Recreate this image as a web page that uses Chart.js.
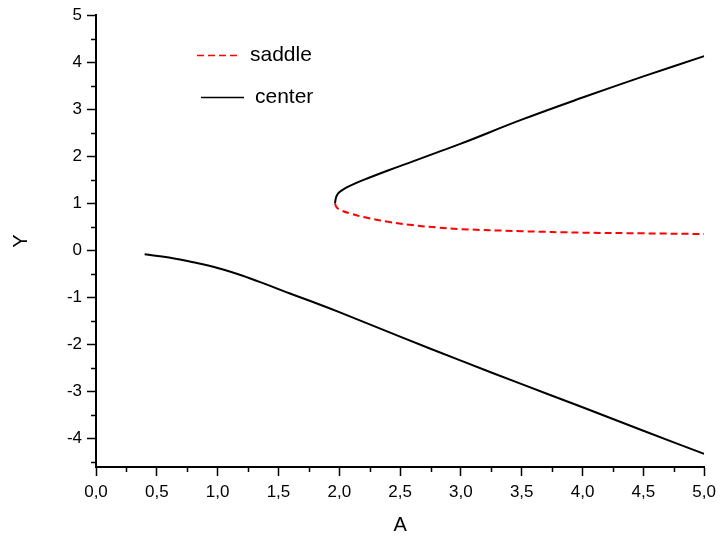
<!DOCTYPE html>
<html>
<head>
<meta charset="utf-8">
<script src="https://cdn.jsdelivr.net/npm/chart.js@4"></script>
<style>
  body { margin: 0; background: #fff; }
  canvas { display: block; }
</style>
</head>
<body>
<canvas id="chart" width="722" height="541"></canvas>
<script>
// lower center branch
var lowA = [0.40, 0.6, 0.8, 1.0, 1.2, 1.4, 1.6, 1.8, 2.0, 2.5, 3.0, 3.5, 4.0, 4.5, 5.0];
var lowY = [-0.08, -0.15, -0.25, -0.37, -0.53, -0.72, -0.92, -1.11, -1.31, -1.83, -2.34, -2.84, -3.33, -3.83, -4.32];
// upper center branch (from the fold)
var upA = [1.965, 1.97, 1.98, 2.0, 2.04, 2.1, 2.2, 2.4, 2.6, 2.8, 3.0, 3.5, 4.0, 4.5, 5.0];
var upY = [1.0, 1.09, 1.17, 1.24, 1.31, 1.39, 1.50, 1.70, 1.89, 2.08, 2.27, 2.78, 3.25, 3.70, 4.13];
// saddle branch (from the fold)
var sadA = [1.965, 1.975, 2.0, 2.1, 2.2, 2.4, 2.6, 2.8, 3.0, 3.5, 4.0, 4.5, 5.0];
var sadY = [1.0, 0.93, 0.87, 0.78, 0.71, 0.61, 0.54, 0.49, 0.455, 0.41, 0.38, 0.365, 0.35];

var xTicks = [0, 0.5, 1, 1.5, 2, 2.5, 3, 3.5, 4, 4.5, 5];
var xMinor = [0.25, 0.75, 1.25, 1.75, 2.25, 2.75, 3.25, 3.75, 4.25, 4.75];
var yTicks = [-4, -3, -2, -1, 0, 1, 2, 3, 4, 5];
var yMinor = [-4.5, -3.5, -2.5, -1.5, -0.5, 0.5, 1.5, 2.5, 3.5, 4.5];

var FONT = "'Liberation Sans', Arial, sans-serif";

var pts = (xs, ys) => xs.map((x, i) => ({x: x, y: ys[i]}));

// short minor ticks on both axes
var minorTicks = {
  id: 'minorTicks',
  afterDraw: (chart) => {
    var ctx = chart.ctx;
    var xs = chart.scales.x, ys = chart.scales.y;
    var area = chart.chartArea;
    ctx.save();
    ctx.strokeStyle = '#000';
    ctx.lineWidth = 1.5;
    ctx.beginPath();
    xMinor.forEach((v) => {
      var px = Math.round(xs.getPixelForValue(v)) + 0.5;
      ctx.moveTo(px, area.bottom);
      ctx.lineTo(px, area.bottom + 5);
    });
    yMinor.forEach((v) => {
      var py = Math.round(ys.getPixelForValue(v)) + 0.5;
      ctx.moveTo(area.left, py);
      ctx.lineTo(area.left - 5, py);
    });
    ctx.stroke();
    ctx.restore();
  }
};

// legend drawn inside the plot like the original
var innerLegend = {
  id: 'innerLegend',
  afterDraw: (chart) => {
    var ctx = chart.ctx;
    var items = [
      {ds: chart.data.datasets[0], x0: 197, x1: 240, y: 55, tx: 250, text: 'saddle'},
      {ds: chart.data.datasets[1], x0: 201, x1: 244, y: 97, tx: 255, text: 'center'}
    ];
    ctx.save();
    items.forEach((it) => {
      ctx.strokeStyle = it.ds.borderColor;
      ctx.lineWidth = 1.5;
      ctx.setLineDash(it.ds.borderDash || []);
      ctx.beginPath();
      ctx.moveTo(it.x0, it.y + 0.5);
      ctx.lineTo(it.x1, it.y + 0.5);
      ctx.stroke();
      ctx.setLineDash([]);
      ctx.fillStyle = '#000';
      ctx.font = '21px ' + FONT;
      ctx.textBaseline = 'middle';
      ctx.fillText(it.text, it.tx, it.y);
    });
    ctx.restore();
  }
};

var ctx = document.getElementById('chart').getContext('2d');
var chart = new Chart(ctx, {
  type: 'scatter',
  data: {
    datasets: [
      {label: 'saddle', data: pts(sadA, sadY), showLine: true, borderColor: '#ff0000', borderWidth: 2, borderDash: [7, 4], pointRadius: 0, tension: 0.4},
      {label: 'center', data: pts(upA, upY), showLine: true, borderColor: '#000000', borderWidth: 2, pointRadius: 0, tension: 0.4},
      {label: 'center', data: pts(lowA, lowY), showLine: true, borderColor: '#000000', borderWidth: 2, pointRadius: 0, tension: 0.4}
    ]
  },
  options: {
    responsive: false,
    animation: false,
    layout: {padding: {top: 15, right: 15, left: 0, bottom: 0}},
    plugins: {legend: {display: false}, tooltip: {enabled: false}},
    scales: {
      x: {
        type: 'linear', min: 0, max: 5,
        afterBuildTicks: (s) => { s.ticks = xTicks.map((v) => ({value: v})); },
        afterFit: (s) => { s.height = 74; },
        ticks: {
          autoSkip: false, maxRotation: 0, padding: 6, color: '#000',
          font: {family: FONT, size: 17},
          callback: (v) => v.toFixed(1).replace('.', ',')
        },
        grid: {drawOnChartArea: false, drawTicks: true, tickLength: 9, tickWidth: 1.5, tickColor: '#000'},
        border: {display: true, color: '#000', width: 2},
        title: {display: true, text: 'A', color: '#000', font: {family: FONT, size: 20}, padding: {top: 0, bottom: 4}}
      },
      y: {
        type: 'linear', min: -4.6, max: 5,
        afterBuildTicks: (s) => { s.ticks = yTicks.map((v) => ({value: v})); },
        afterFit: (s) => { s.width = 96; },
        ticks: {
          autoSkip: false, padding: 5, color: '#000',
          font: {family: FONT, size: 17},
          callback: (v) => String(v)
        },
        grid: {drawOnChartArea: false, drawTicks: true, tickLength: 9, tickWidth: 1.5, tickColor: '#000'},
        border: {display: true, color: '#000', width: 2},
        title: {display: true, text: 'Y', color: '#000', font: {family: FONT, size: 20}, padding: {top: 9, bottom: 0}}
      }
    }
  },
  plugins: [minorTicks, innerLegend]
});
</script>
</body>
</html>
